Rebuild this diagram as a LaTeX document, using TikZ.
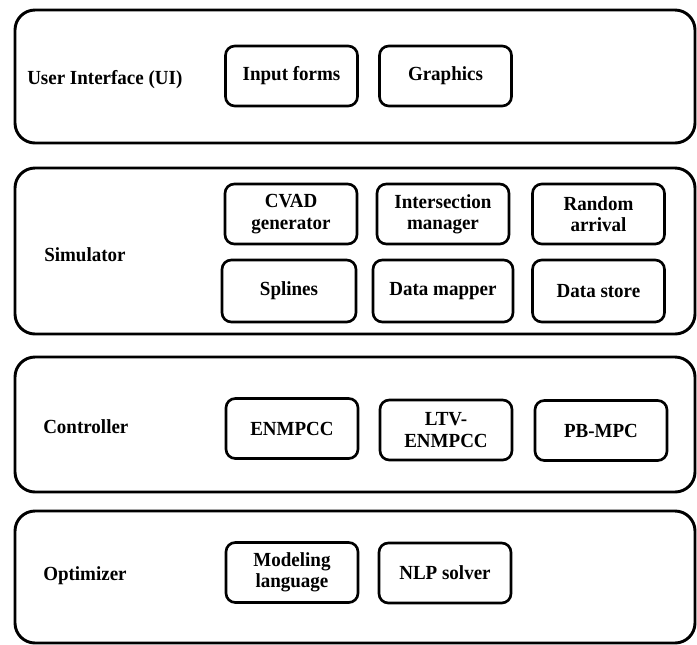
\documentclass[tikz,border=0pt]{standalone}
\usepackage{fontspec}
\setmainfont{Liberation Serif}[FakeStretch=0.95]
\begin{document}
\begin{tikzpicture}[x=0.75pt,y=-0.75pt,
    font=\fontsize{15}{16}\selectfont\bfseries,
    layer/.style={draw, line width=2.2pt, rounded corners=15pt, minimum width=510pt},
    module/.style={draw, line width=2pt, rounded corners=7pt, minimum width=99pt, minimum height=45pt, align=center, inner sep=1pt},
    title/.style={anchor=west, inner sep=0pt}]
    \useasboundingbox (0,0) rectangle (697,644);

    % The four layers
    \node[layer, minimum height=99.75pt]  (UI)   at (355,76.5) {};
    \node[layer, minimum height=124.5pt]  (Sim)  at (355,251)  {};
    \node[layer, minimum height=101.25pt] (Ctrl) at (355,424.5) {};
    \node[layer, minimum height=99pt]     (Opt)  at (355,577)  {};

    % Layer titles
    \node[title] (UItxt)   at (27,80)  {User Interface (UI)};
    \node[title] (Simtxt)  at (44,255) {Simulator};
    \node[title] (Ctrltxt) at (43,427) {Controller};
    \node[title] (Opttxt)  at (43,576) {Optimizer};

    % User interface modules
    \node[module] (Forms)    at (291.5,76) {Input forms};
    \node[module] (Graphics) at (445.5,76) {Graphics};

    % Simulator modules, top row
    \node[module] (CVAD)   at (291,214)   {CVAD\\generator};
    \node[module] (IM)     at (443,214)   {Intersection\\manager};
    \node[module] (Random) at (598.5,214) {Random\\arrival};

    % Simulator modules, bottom row
    \node[module, minimum width=100.5pt, minimum height=46.5pt] (Splines) at (289,291)   {Splines};
    \node[module, minimum width=105pt, minimum height=46.5pt]   (Mapper)  at (443,291)   {Data mapper};
    \node[module, minimum height=46.5pt]                        (Store)   at (598.5,291) {Data store};

    % Controller modules
    \node[module] (ENMPCC) at (292,428.5) {ENMPCC};
    \node[module] (LTV)    at (446,430)   {LTV-\\ENMPCC};
    \node[module] (PBMPC)  at (601,430.5) {PB-MPC};

    % Optimizer modules
    \node[module] (Lang) at (292,572.5) {Modeling\\language};
    \node[module] (NLP)  at (445,573)   {NLP solver};
  \end{tikzpicture}
\end{document}
